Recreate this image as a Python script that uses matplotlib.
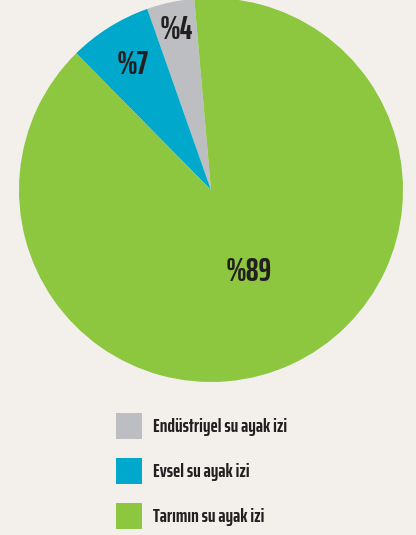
import numpy as np
import matplotlib.pyplot as plt

# data
labels = ["Endüstriyel su ayak izi", "Evsel su ayak izi", "Tarımın su ayak izi"]
shares = [4, 7, 89]
pct_text = ["%4", "%7", "%89"]
colors = ["#bdbec2", "#00a9cb", "#8dc63f"]
label_r = [0.85, 0.77, 0.47]   # radial position of each percent label

bg = "#f3f0ec"
ink = "#231f20"
font = "Saira ExtraCondensed"

W, H = 416, 535
fig = plt.figure(figsize=(W / 100, H / 100), dpi=100, facecolor=bg)

# pie: centre (211,190) px, radius 192 px
cx, cy, r = 211, 190, 192
ax = fig.add_axes([(cx - r) / W, (H - cy - r) / H, 2 * r / W, 2 * r / H])
ax.set_facecolor(bg)
wedges, _ = ax.pie(shares, colors=colors, startangle=95, counterclock=True,
                   radius=1, wedgeprops=dict(linewidth=0))
ax.set_xlim(-1, 1)
ax.set_ylim(-1, 1)
ax.set_aspect("equal")
ax.axis("off")

for w, txt, rr in zip(wedges, pct_text, label_r):
    ang = np.deg2rad((w.theta1 + w.theta2) / 2)
    ax.text(rr * np.cos(ang), rr * np.sin(ang), txt, ha="center", va="center",
            fontsize=23, fontweight=700, family=font, color=ink)

fs = 14
fig.legend(wedges, labels, loc="upper left",
           bbox_to_anchor=(116 / W, 1 - 413 / H), frameon=False,
           prop=dict(family=font, weight=700, size=fs),
           labelcolor=ink, handlelength=1.34, handleheight=1.68,
           labelspacing=0.98, handletextpad=0.55, borderpad=0,
           borderaxespad=0)

fig.savefig("out.png", dpi=100, facecolor=bg)
